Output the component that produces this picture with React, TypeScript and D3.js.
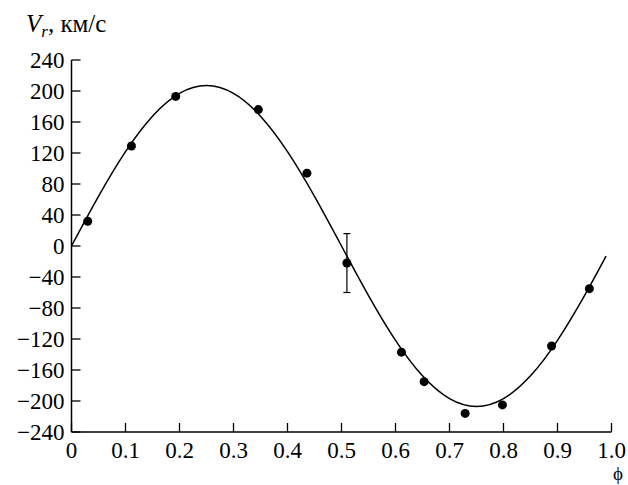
import React from "react";
import * as d3 from "d3";

const phase = [0.030, 0.111, 0.193, 0.346, 0.436, 0.510, 0.611, 0.653, 0.729, 0.798, 0.889, 0.959];
const velocity = [32, 129, 193, 176, 94, -22, -137, -175, -216, -205, -129, -55];
const errLow = [null, null, null, null, null, -60, null, null, null, null, null, null];
const errHigh = [null, null, null, null, null, 16, null, null, null, null, null, null];

const curvePhase = [0, 0.05, 0.1, 0.15, 0.2, 0.25, 0.3, 0.35, 0.4, 0.45, 0.5, 0.55, 0.6, 0.65, 0.7, 0.75, 0.8, 0.85, 0.9, 0.95, 0.99];
const curveVel = [0, 64, 121.7, 167.5, 196.9, 207, 196.9, 167.5, 121.7, 64, 0, -64, -121.7, -167.5, -196.9, -207, -196.9, -167.5, -121.7, -64, -13];

const xTicks = [0, 0.1, 0.2, 0.3, 0.4, 0.5, 0.6, 0.7, 0.8, 0.9, 1.0];
const yTicks = [240, 200, 160, 120, 80, 40, 0, -40, -80, -120, -160, -200, -240];

export default function App() {
  const W = 628, H = 485;
  const x = d3.scaleLinear().domain([0, 1]).range([71.5, 611.5]);
  const y = d3.scaleLinear().domain([-240, 240]).range([432, 60]);
  const F = "Liberation Serif";
  const ts: React.CSSProperties = { fontFamily: `"${F}"` };
  const line = d3
    .line<number>()
    .x((_, i) => x(curvePhase[i]))
    .y((d) => y(d))
    .curve(d3.curveNatural);
  const fmtY = (v: number) => (v < 0 ? "\u2212" + Math.abs(v) : String(v));
  const fmtX = (v: number) => (v === 0 ? "0" : v.toFixed(1));
  const tick = 9;
  return (
    <svg width={W} height={H} style={{ position: "absolute", left: 0, top: 0, background: "#fff" }}>
      {/* axes */}
      <line x1={x(0)} x2={x(0)} y1={y(240)} y2={y(-240)} stroke="#000" strokeWidth={1.5} />
      <line x1={x(0)} x2={x(1)} y1={y(-240)} y2={y(-240)} stroke="#000" strokeWidth={1.5} />
      {yTicks.map((t) => (
        <g key={"y" + t}>
          <line x1={x(0)} x2={x(0) + tick} y1={y(t)} y2={y(t)} stroke="#000" strokeWidth={1.3} />
          <text fontFamily={F} style={ts} x={x(0) - 7} y={y(t) + 7.5} textAnchor="end" fontSize={23}>
            {fmtY(t)}
          </text>
        </g>
      ))}
      {xTicks.map((t) => (
        <g key={"x" + t}>
          <line x1={x(t)} x2={x(t)} y1={y(-240)} y2={y(-240) - tick} stroke="#000" strokeWidth={1.3} />
          <text fontFamily={F} style={ts} x={x(t)} y={458} textAnchor="middle" fontSize={23}>
            {fmtX(t)}
          </text>
        </g>
      ))}
      {/* axis titles */}
      <text fontFamily={F} style={ts} x={26} y={32} fontSize={25}>
        <tspan fontStyle="italic">V</tspan>
        <tspan fontStyle="italic" fontSize={17} dy={5}>r</tspan>
        <tspan dy={-5}>, км/с</tspan>
      </text>
      <text fontFamily={F} style={ts} x={618} y={480} textAnchor="middle" fontSize={19}>
        ϕ
      </text>
      {/* curve */}
      <path d={line(curveVel) || ""} fill="none" stroke="#000" strokeWidth={1.5} />
      {/* error bars */}
      {phase.map((p, i) =>
        errLow[i] !== null ? (
          <g key={"e" + i} stroke="#000" strokeWidth={1.2}>
            <line x1={x(p)} x2={x(p)} y1={y(errHigh[i] as number)} y2={y(errLow[i] as number)} />
            <line x1={x(p) - 3.5} x2={x(p) + 3.5} y1={y(errHigh[i] as number)} y2={y(errHigh[i] as number)} />
            <line x1={x(p) - 3.5} x2={x(p) + 3.5} y1={y(errLow[i] as number)} y2={y(errLow[i] as number)} />
          </g>
        ) : null
      )}
      {/* points */}
      {phase.map((p, i) => (
        <circle key={"p" + i} cx={x(p)} cy={y(velocity[i])} r={4.5} fill="#000" />
      ))}
    </svg>
  );
}
